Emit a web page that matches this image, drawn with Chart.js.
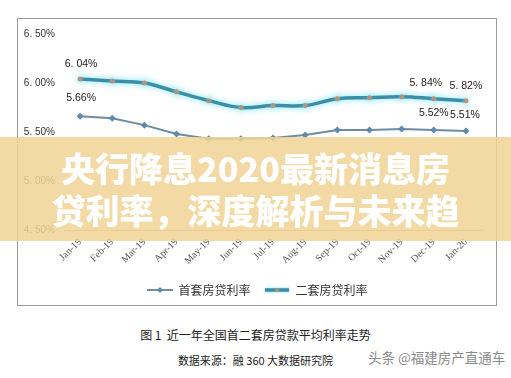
<!DOCTYPE html>
<html>
<head>
<meta charset="utf-8">
<script src="https://cdn.jsdelivr.net/npm/chart.js@4/dist/chart.umd.min.js"></script>
<style>
  body { margin: 0; background: #fff; width: 511px; height: 378px; overflow: hidden; position: relative; font-family: "Noto Sans CJK SC", sans-serif; }
  #frame { position: absolute; left: 17px; top: 18px; width: 480px; height: 288px; box-sizing: border-box; border: 1px solid #9a9a9a; }
  #wrap { position: absolute; left: 17px; top: 18px; width: 480px; height: 288px; }
  .caption { position: absolute; left: 0; width: 511px; text-align: center; color: #222; }
  #cap1 { top: 326px; font-size: 12px; }
  #cap2 { top: 352px; font-size: 11px; }
  #mark { position: absolute; left: 368px; top: 347px; font-size: 13.5px; color: #8a8a8a; }
  #banner { position: absolute; left: 0; top: 137px; width: 511px; height: 104px; background: rgba(241, 212, 150, 0.86);
            color: #fff; font-weight: 900; font-size: 34px; line-height: 42px; text-align: center; padding-top: 10px; box-sizing: border-box; }
</style>
</head>
<body>
<div id="wrap"><canvas id="rateChart" width="480" height="288"></canvas></div>
<div id="frame"></div>
<div class="caption" id="cap1">图 1&nbsp;&nbsp;近一年全国首二套房贷款平均利率走势</div>
<div class="caption" id="cap2">数据来源：融 360 大数据研究院</div>
<div id="mark">头条 @福建房产直通车</div>
<div id="banner">央行降息2020最新消息房<br>贷利率，深度解析与未来趋</div>
<script>
// Data
const months = ["Jan-19", "Feb-19", "Mar-19", "Apr-19", "May-19", "Jun-19", "Jul-19", "Aug-19", "Sep-19", "Oct-19", "Nov-19", "Dec-19", "Jan-20"];
const firstHome = [5.66, 5.64, 5.57, 5.48, 5.43, 5.43, 5.44, 5.47, 5.52, 5.52, 5.53, 5.52, 5.51];
const secondHome = [6.04, 6.02, 6.00, 5.91, 5.82, 5.75, 5.77, 5.77, 5.84, 5.85, 5.86, 5.84, 5.82];
const seriesNames = ["首套房贷利率", "二套房贷利率"];
const yMin = 4.5, yMax = 6.5, yStep = 0.5;

// labels written next to some points: [dataset, index, text, dx, dy]
const pointNotes = [
    [1, 0, "6. 04%", 1, -15],
    [0, 0, "5.66%", 1, -18],
    [1, 11, "5. 84%", -8, -16],
    [1, 12, "5. 82%", 0, -15],
    [0, 11, "5.52%", 0, -17],
    [0, 12, "5.51%", -1, -16]
];

const firstColor = "#6d8ca2";
const firstMarker = "#5f8aae";
const secondColor = "#3a8ea8";
const secondMarker = "#b3967a";
const glow = "rgba(70, 215, 240, 0.75)";

// legend samples: a line with a marker in the middle
function makeSample(which) {
    let c = document.createElement("canvas");
    c.width = 26; c.height = 10;
    let g = c.getContext("2d");
    if (which === 0) {
        g.strokeStyle = firstColor; g.lineWidth = 2;
        g.beginPath(); g.moveTo(0, 5); g.lineTo(26, 5); g.stroke();
        g.fillStyle = firstMarker;
        g.beginPath(); g.moveTo(13, 2); g.lineTo(16, 5); g.lineTo(13, 8); g.lineTo(10, 5); g.closePath(); g.fill();
    } else {
        g.shadowColor = glow; g.shadowBlur = 3;
        g.strokeStyle = secondColor; g.lineWidth = 3.5;
        g.beginPath(); g.moveTo(1, 5); g.lineTo(25, 5); g.stroke();
        g.shadowBlur = 0;
        g.fillStyle = secondMarker;
        g.beginPath(); g.arc(13, 5, 2, 0, Math.PI * 2); g.fill();
    }
    return c;
}
const samples = [makeSample(0), makeSample(1)];

const glowPlugin = {
    id: "glow",
    beforeDatasetDraw(chart, args) {
        if (args.index === 1) {
            chart.ctx.save();
            chart.ctx.shadowColor = glow;
            chart.ctx.shadowBlur = 6;
        }
    },
    afterDatasetDraw(chart, args) {
        if (args.index === 1) chart.ctx.restore();
    }
};

// legend sits centred on the whole frame, not on the padded area
const legendShift = {
    id: "legendShift",
    afterLayout(chart) {
        chart.legend.left += 8;
        chart.legend.right += 8;
    }
};

const notesPlugin = {
    id: "notes",
    afterDatasetsDraw(chart) {
        let ctx = chart.ctx;
        ctx.save();
        ctx.font = "10.5px 'Liberation Sans'";
        ctx.fillStyle = "#222";
        ctx.textAlign = "center";
        ctx.textBaseline = "middle";
        pointNotes.forEach(n => {
            let pt = chart.getDatasetMeta(n[0]).data[n[1]];
            ctx.fillText(n[2], pt.x + n[3], pt.y + n[4]);
        });
        ctx.restore();
    }
};

const ctx = document.getElementById("rateChart").getContext("2d");
new Chart(ctx, {
    type: "line",
    data: {
        labels: months,
        datasets: [
            {
                label: seriesNames[0],
                data: firstHome,
                borderColor: firstColor,
                borderWidth: 2,
                pointStyle: "rectRot",
                pointRadius: 3.5,
                pointBackgroundColor: firstMarker,
                pointBorderWidth: 0,
                tension: 0
            },
            {
                label: seriesNames[1],
                data: secondHome,
                borderColor: secondColor,
                borderWidth: 3.5,
                pointRadius: 2.5,
                pointBackgroundColor: secondMarker,
                pointBorderWidth: 0,
                tension: 0.4
            }
        ]
    },
    options: {
        responsive: false,
        animation: false,
        devicePixelRatio: 1,
        layout: { padding: { top: 16, right: 15, left: 0, bottom: 0 } },
        plugins: {
            tooltip: { enabled: false },
            legend: {
                position: "bottom",
                labels: {
                    usePointStyle: true,
                    pointStyleWidth: 25,
                    padding: 14,
                    color: "#333",
                    font: { family: "'Noto Sans CJK SC'", size: 12 },
                    generateLabels(chart) {
                        let items = Chart.defaults.plugins.legend.labels.generateLabels(chart);
                        items.forEach((it, i) => { it.pointStyle = samples[i]; });
                        return items;
                    }
                }
            }
        },
        scales: {
            x: {
                offset: true,
                grid: { display: false, drawTicks: false },
                border: { display: true, color: "#a8a8a8" },
                ticks: {
                    minRotation: 45, maxRotation: 45, padding: 6,
                    color: "#555",
                    font: { family: "'Liberation Serif'", size: 10 }
                },
                afterFit(scale) { scale.height = 40; }
            },
            y: {
                min: yMin, max: yMax,
                grid: { display: false, drawTicks: false },
                border: { display: false },
                ticks: {
                    stepSize: yStep, padding: 9,
                    color: "#333",
                    font: { family: "'Liberation Sans'", size: 10 },
                    callback: v => v.toFixed(2).replace(".", ". ") + "%"
                },
                afterFit(scale) { scale.width = 47; }
            }
        }
    },
    plugins: [glowPlugin, legendShift, notesPlugin]
});
</script>
</body>
</html>
